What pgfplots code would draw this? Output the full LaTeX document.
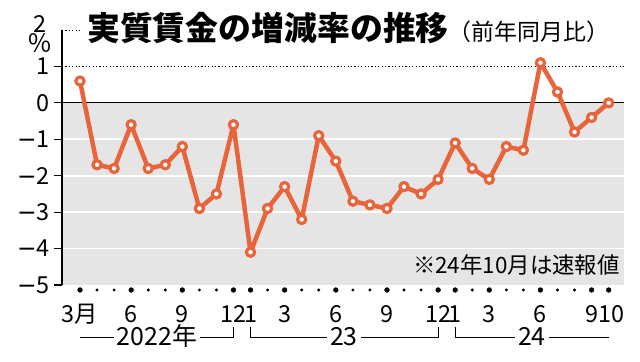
\documentclass[border=0pt]{standalone}
\usepackage{pgfplots}
\pgfplotsset{compat=1.18}
\usepackage{fontspec}
\setmainfont{Noto Sans CJK JP}
\newfontfamily\dv{DejaVu Sans}
\definecolor{ln}{HTML}{E8643A}
\definecolor{bg}{HTML}{E5E5E5}
\newcommand{\mn}{{\dv −}}
\begin{document}
\begin{tikzpicture}
\useasboundingbox (0,0) rectangle (640bp,362bp);
\begin{axis}[
  at={(62bp,77bp)}, anchor=south west,
  scale only axis, width=562bp, height=255bp,
  xmin=-1.056, xmax=31.9, ymin=-5, ymax=2,
  clip=false,
  axis x line*=bottom, axis y line*=left,
  x axis line style={draw=none},
  y axis line style={line width=1.2bp, black},
  xtick={0,3,6,9,10,12,15,18,21,22,24,27,30,31},
  xticklabels={3月,6,9,{12\hspace{8bp}},1,3,6,9,{12\hspace{8bp}},1,3,6,9,{\hspace{6bp}10}},
  x tick style={draw=none},
  xticklabel style={font=\fontsize{23.5}{23.5}\selectfont, anchor=base, inner sep=0pt, yshift=-29bp},
  ytick={-5,-4,-3,-2,-1,0,1},
  yticklabels={\mn5,\mn4,\mn3,\mn2,\mn1,0,1},
  y tick style={line width=1.2bp, black},
  tick align=outside, major tick length=8bp,
  yticklabel style={font=\fontsize{23.5}{23.5}\selectfont, anchor=east, inner sep=0pt, xshift=-4bp},
]
% background
\fill[bg] (axis cs:-1.056,-5) rectangle (axis cs:31.9,0);
\draw[white, line width=1.7bp] (axis cs:-1.056,-1) -- (axis cs:31.9,-1);
\draw[white, line width=1.7bp] (axis cs:-1.056,-2) -- (axis cs:31.9,-2);
\draw[white, line width=1.7bp] (axis cs:-1.056,-3) -- (axis cs:31.9,-3);
\draw[white, line width=1.7bp] (axis cs:-1.056,-4) -- (axis cs:31.9,-4);
\draw[black, line width=1.2bp] (axis cs:-1.056,0) -- (axis cs:31.9,0);
\draw[black, line width=1bp, dash pattern=on 1.2bp off 2.2bp] (axis cs:-1.056,1) -- (axis cs:31.9,1);
\draw[black, line width=1bp, dash pattern=on 1.2bp off 2.2bp] (axis cs:-1.056,2) -- (axis cs:0.1,2);
\draw[black, line width=1.2bp] (axis cs:-1.056,2) -- (axis cs:-1.056,-5);
% data
\addplot[color=ln, line width=4.5bp, line join=round, mark=*, mark size=4.1bp,
  mark options={fill=white, draw=ln, line width=3.2bp}] coordinates {
(0,0.6) (1,-1.7) (2,-1.8) (3,-0.6) (4,-1.8) (5,-1.7) (6,-1.2) (7,-2.9) (8,-2.5) (9,-0.6)
(10,-4.1) (11,-2.9) (12,-2.3) (13,-3.2) (14,-0.9) (15,-1.6) (16,-2.7) (17,-2.8) (18,-2.9)
(19,-2.3) (20,-2.5) (21,-2.1) (22,-1.1) (23,-1.8) (24,-2.1) (25,-1.2) (26,-1.3) (27,1.1)
(28,0.3) (29,-0.8) (30,-0.4) (31,0.0)
};
% month dots
\addplot[only marks, mark=*, mark size=2.4bp, black] coordinates {
(0,-5.137) (3,-5.137) (6,-5.137) (9,-5.137) (10,-5.137) (12,-5.137) (15,-5.137) (18,-5.137)
(21,-5.137) (22,-5.137) (24,-5.137) (27,-5.137) (30,-5.137) (31,-5.137)
};
\addplot[only marks, mark=*, mark size=1.3bp, black] coordinates {
(1,-5.137) (2,-5.137) (4,-5.137) (5,-5.137) (7,-5.137) (8,-5.137) (11,-5.137) (13,-5.137)
(14,-5.137) (16,-5.137) (17,-5.137) (19,-5.137) (20,-5.137) (23,-5.137) (25,-5.137)
(26,-5.137) (28,-5.137) (29,-5.137)
};
% year brackets
\draw[black, line width=1bp] (axis cs:0,-6.43) -- (axis cs:9,-6.43) -- (axis cs:9,-6.15);
\draw[black, line width=1bp] (axis cs:10,-6.15) -- (axis cs:10,-6.43) -- (axis cs:21,-6.43) -- (axis cs:21,-6.15);
\draw[black, line width=1bp] (axis cs:22,-6.15) -- (axis cs:22,-6.43) -- (axis cs:31,-6.43);
\node[fill=white, inner xsep=3bp, inner ysep=1bp, anchor=base, font=\fontsize{25}{25}\selectfont] at (axis cs:4.52,-6.65) {2022年};
\node[fill=white, inner xsep=3bp, inner ysep=1bp, anchor=base, font=\fontsize{25}{25}\selectfont] at (axis cs:15.48,-6.65) {23};
\node[fill=white, inner xsep=3bp, inner ysep=1bp, anchor=base, font=\fontsize{25}{25}\selectfont] at (axis cs:26.5,-6.65) {24};
\end{axis}
% y label 2 and % (one node, two lines)
\node[anchor=south, inner sep=0pt, align=center, text depth=0pt, font=\fontsize{23.5}{20}\selectfont] at (40bp,309bp) {2\\{\fontsize{25}{20}\selectfont ％}};
% title
\node[anchor=base west, inner sep=0pt] at (87bp,321bp) {{\fontsize{33}{33}\selectfont\bfseries 実質賃金の増減率の推移}{\fontsize{23}{23}\selectfont （前年同月比）}};
% note
\node[anchor=base east, inner sep=0pt, font=\fontsize{22.5}{22.5}\selectfont] at (620bp,88bp) {※24年10月は速報値};
\end{tikzpicture}
\end{document}
